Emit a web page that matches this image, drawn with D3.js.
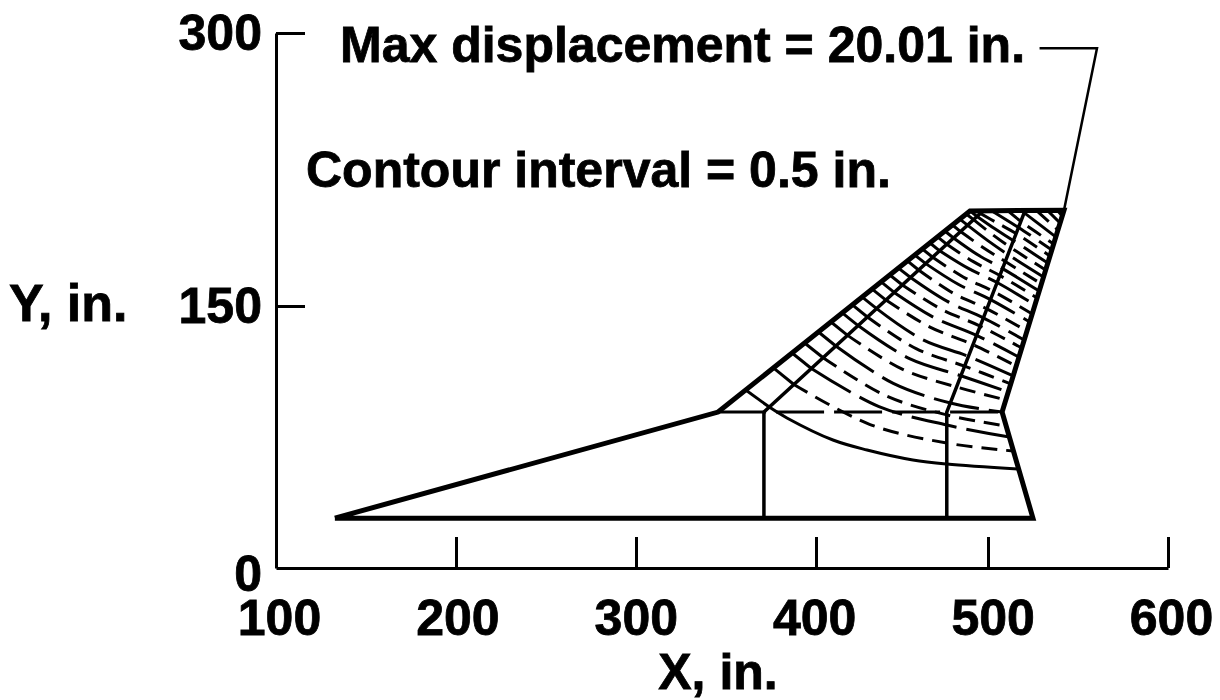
<!DOCTYPE html>
<html>
<head>
<meta charset="utf-8">
<script src="https://cdn.jsdelivr.net/npm/d3@7"></script>
<style>
  html, body { margin: 0; padding: 0; background: #fff; }
  text { font-family: "Liberation Sans", Arial, sans-serif; font-weight: bold; fill: #000; stroke: #000; stroke-width: 0.8px; }
</style>
</head>
<body>
<div id="chart"></div>
<script>
const xTicks = [100, 200, 300, 400, 500, 600];
const yTicks = [0, 150, 300];

// planform outline, in.
const outline = [[133, 28], [347.8, 87.6], [489, 200.6], [541.7, 201], [507, 87.6], [524.3, 28], [133, 28]];
const frontSpar = [[373.5, 28], [373.5, 87.6], [496.3, 200.6]];
const rearSpar = [[476, 28], [476, 87.6], [519.8, 200.6]];
const breakLine = [[347.8, 87.6], [507, 87.6]];
const leader = [[528, 292], [560.2, 292], [541.7, 201]];

// displacement contours, root to tip
const contours = [
  [[363.3, 100], [376.5, 90.4], [386.4, 84.3], [412.2, 71.9], [431.3, 66.3], [457, 60.7], [476, 58.4], [516.3, 55.6]],
  [[378.8, 112.4], [390.3, 103.1], [433, 80.6], [476, 70.2], [513.4, 65.7]],
  [[389.3, 120.8], [400.1, 112.1], [438, 90.7], [476, 80.3], [511.1, 73.6]],
  [[396.3, 126.4], [406.7, 118.1], [441.4, 97], [476, 86], [509.3, 79.8]],
  [[404.1, 132.6], [413.8, 124.7], [446, 103.7], [478, 92.7], [507, 87.6]],
  [[411.1, 138.2], [420.4, 130.7], [451, 111.7], [481.5, 101.7], [509.1, 94.4]],
  [[417.4, 143.3], [426.3, 136.2], [455.1, 117.6], [483.9, 108], [510.5, 98.9]],
  [[423.1, 147.8], [431.5, 141], [458.8, 123.2], [486, 113.4], [511.8, 103.4]],
  [[428.6, 152.2], [436.7, 145.7], [462.4, 128.3], [488.1, 118.9], [513.2, 107.9]],
  [[434.2, 156.7], [441.9, 150.5], [466.3, 135.5], [490.7, 125.5], [514.9, 113.5]],
  [[439.2, 160.7], [446.5, 154.8], [469.6, 140.3], [492.7, 130.7], [516.4, 118.5]],
  [[444.1, 164.6], [451.1, 159], [472.9, 145.4], [494.7, 135.9], [518, 123.6]],
  [[448.9, 168.5], [455.7, 163.2], [476.1, 149.9], [496.5, 140.5], [519.4, 128.1]],
  [[453.9, 172.5], [460.2, 167.4], [479.4, 154.5], [498.5, 145.6], [520.9, 133.1]],
  [[458.1, 175.8], [464.2, 171], [482.4, 159.4], [500.5, 150.8], [522.5, 138.2]],
  [[462.3, 179.2], [468.1, 174.6], [485.2, 163.5], [502.3, 155.3], [523.9, 142.7]],
  [[466.6, 182.6], [472, 178.2], [488.1, 168.3], [504.2, 160.4], [525.4, 147.8]],
  [[470.8, 186], [476, 181.9], [490.9, 172.1], [505.8, 164.3], [526.6, 151.7]],
  [[474.9, 189.3], [479.8, 185.4], [493.6, 175.8], [507.3, 168.2], [527.8, 155.6]],
  [[479.2, 192.7], [483.7, 189], [496.3, 180.1], [508.8, 172.2], [529, 159.6]],
  [[483.3, 196], [487.6, 192.6], [499, 183.9], [510.3, 176.1], [530.2, 163.5]],
  [[486.9, 198.9], [491, 195.7], [501.5, 187.4], [511.9, 180], [531.4, 167.4]],
  [[489, 200.6], [493, 197.5], [503.2, 190.4], [513.4, 183.9], [532.6, 171.3]],
  [[493, 200.6], [494.8, 199.2], [504.9, 193.5], [514.9, 187.9], [533.8, 175.3]],
  [[501.3, 200.6], [516.2, 191.3], [534.9, 178.7]],
  [[510.3, 200.6], [517.6, 194.7], [535.9, 182]],
  [[518, 200.6], [537.1, 186]],
  [[526.5, 200.6], [538.3, 189.9]],
  [[532.7, 200.6], [539.5, 193.8]],
  [[538.3, 200.6], [540.7, 197.8]]
];

const width = 1220, height = 700;
const svg = d3.select("#chart").append("svg").attr("width", width).attr("height", height);

const x = d3.scaleLinear().domain([100, 600]).range([276, 1168]);
const y = d3.scaleLinear().domain([0, 300]).range([568, 34]);
// the scanned axes are not quite even, so ticks get their own scales
const xAxisScale = d3.scaleLinear().domain(xTicks).range([276, 456, 636, 816, 988, 1168]);
const yAxisScale = d3.scaleLinear().domain(yTicks).range([568, 306, 33]);
const xLabelScale = d3.scaleLinear().domain([100, 600]).range([279, 1171]);

const line = d3.line().x(d => x(d[0])).y(d => y(d[1]));
const curve = d3.line().x(d => x(d[0])).y(d => y(d[1])).curve(d3.curveCatmullRom);

// axes
const xAxis = svg.append("g").attr("transform", "translate(0,568)")
  .call(d3.axisBottom(xAxisScale).tickValues(xTicks).tickSize(-31).tickSizeOuter(0).tickFormat(d3.format("d")));
const yAxis = svg.append("g").attr("transform", "translate(276,0)")
  .call(d3.axisLeft(yAxisScale).tickValues(yTicks).tickSize(-29).tickSizeOuter(0).tickFormat(d3.format("d")));
svg.selectAll(".domain, .tick line").attr("stroke", "#000").attr("stroke-width", 3);
xAxis.selectAll(".tick line").filter(d => d === 100).remove();
yAxis.selectAll(".tick line").filter(d => d === 0).remove();
xAxis.selectAll("text").attr("x", d => xLabelScale(d) - xAxisScale(d)).attr("y", 31).attr("dy", "0.71em")
  .style("font-size", "50px").style("font-family", null);
yAxis.selectAll("text").attr("x", -14).attr("dy", d => d === 0 ? "0.45em" : "0.32em")
  .style("font-size", "50px").style("font-family", null);

// contours: solid ahead of the front spar, broken behind it
const contourG = svg.append("g").attr("fill", "none").attr("stroke", "#000").attr("stroke-width", 3);
contourG.selectAll("path.aft").data(contours).join("path").attr("class", "aft")
  .attr("d", d => curve(d.length > 4 ? d.slice(1) : d))
  .attr("stroke-dasharray", (d, i) => i === 0 ? null : i % 2 ? "16 9" : "46 10");
contourG.selectAll("path.fwd").data(contours.filter(d => d.length > 4)).join("path").attr("class", "fwd")
  .attr("d", d => line(d.slice(0, 2)));

svg.append("path").attr("d", line(breakLine)).attr("fill", "none").attr("stroke", "#000")
  .attr("stroke-width", 3).attr("stroke-dasharray", "48 10");

svg.append("path").attr("d", line(leader)).attr("fill", "none").attr("stroke", "#000").attr("stroke-width", 2.5);

[frontSpar, rearSpar].forEach(s => {
  svg.append("path").attr("d", line(s)).attr("fill", "none").attr("stroke", "#000").attr("stroke-width", 3.5);
});

svg.append("path").attr("d", line(outline)).attr("fill", "none").attr("stroke", "#000")
  .attr("stroke-width", 5).attr("stroke-linejoin", "miter").attr("stroke-miterlimit", 20);

// labels
const label = (t, px, py, anchor, size) => svg.append("text").attr("x", px).attr("y", py)
  .attr("text-anchor", anchor || "start").style("font-size", (size || 50) + "px").text(t);
label("Max displacement = 20.01 in.", 340, 62);
label("Contour interval = 0.5 in.", 306, 187);
label("Y, in.", 9, 321, "start", 52);
label("X, in.", 718, 689, "middle");
</script>
</body>
</html>
